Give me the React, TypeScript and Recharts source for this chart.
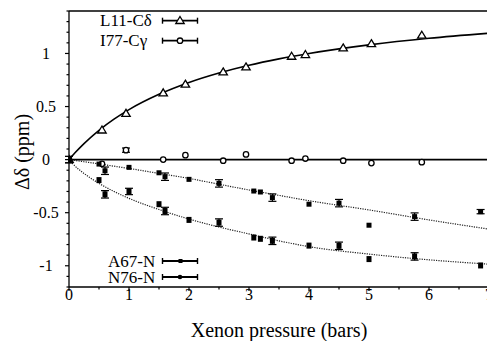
import {
  ComposedChart,
  Line,
  Scatter,
  ErrorBar,
  XAxis,
  YAxis,
  ReferenceLine,
} from "recharts";

const FONT = "Liberation Serif";

// L11-Cδ and I77-Cγ (same pressures)
const cPressure = [0, 0.55, 0.95, 1.57, 1.94, 2.57, 2.95, 3.71, 3.94, 4.57, 5.04, 5.88];
const l11Shift = [0, 0.277, 0.434, 0.627, 0.709, 0.824, 0.871, 0.972, 0.988, 1.05, 1.09, 1.17];
const i77Shift = [0, -0.04, 0.089, 0, 0.042, -0.01, 0.049, -0.01, 0.01, -0.01, -0.033, -0.024];
const i77Err = [0, 0, 0.02, 0, 0, 0, 0, 0, 0, 0, 0, 0];

// A67-N and N76-N
const nPressure = [0, 0.5, 0.6, 1.0, 1.5, 1.6, 2.0, 2.5, 3.08, 3.19, 3.39, 4.0, 4.5, 5.0, 5.76, 6.86];
const n76Shift = [0, -0.042, -0.105, -0.073, -0.124, -0.161, -0.186, -0.224, -0.296, -0.305, -0.358, -0.42, -0.41, -0.618, -0.537, -0.49];
const n76Err = [0.03, 0, 0.035, 0, 0, 0.035, 0, 0.035, 0, 0, 0.035, 0, 0.035, 0, 0.035, 0.02];
const a67Shift = [0, -0.193, -0.327, -0.3, -0.42, -0.484, -0.568, -0.593, -0.734, -0.746, -0.765, -0.81, -0.812, -0.937, -0.912, -0.997];
const a67Err = [0.03, 0, 0.035, 0.03, 0, 0.035, 0, 0.035, 0, 0, 0.035, 0, 0.035, 0, 0.035, 0];

// fitted curves
const fitX = [0, 0.05, 0.1, 0.25, 0.5, 0.75, 1, 1.5, 2, 2.5, 3, 3.5, 4, 5, 6, 7];
const l11Fit = [0, 0.033, 0.064, 0.151, 0.276, 0.381, 0.471, 0.615, 0.727, 0.816, 0.889, 0.949, 1.0, 1.081, 1.143, 1.191];
const a67Fit = [0, -0.03, -0.06, -0.13, -0.224, -0.3, -0.365, -0.47, -0.56, -0.635, -0.7, -0.765, -0.82, -0.89, -0.944, -0.985];
const n76Fit = [0, -0.004, -0.008, -0.02, -0.04, -0.062, -0.083, -0.13, -0.177, -0.232, -0.286, -0.337, -0.387, -0.474, -0.568, -0.655];
const i77FitX = [0, 7];
const i77Fit = [0, 0];

const xTicks = [0, 0.5, 1, 1.5, 2, 2.5, 3, 3.5, 4, 4.5, 5, 5.5, 6, 6.5, 7];
const xLabeled = [0, 1, 2, 3, 4, 5, 6, 7];
const yTicks = [
  -1.2, -1.1, -1, -0.9, -0.8, -0.7, -0.6, -0.5, -0.4, -0.3, -0.2, -0.1, 0,
  0.1, 0.2, 0.3, 0.4, 0.5, 0.6, 0.7, 0.8, 0.9, 1, 1.1, 1.2, 1.3, 1.4,
];
const yLabeled = [-1, -0.5, 0, 0.5, 1];

const toPoints = (xs: number[], ys: number[], errs?: number[]) =>
  xs.map((x, i) => ({ x, y: ys[i], err: errs ? errs[i] : 0 }));

const XTick = ({ x, y, payload }: any) => {
  const major = xLabeled.includes(payload.value);
  return (
    <g>
      <line x1={x} x2={x} y1={y} y2={y + (major ? 4 : 2.5)} stroke="#000" strokeWidth={1.2} />
      {major && (
        <text x={x} y={y + 12.5} textAnchor="middle" fontSize={16} fontFamily={FONT} fill="#000">
          {payload.value}
        </text>
      )}
    </g>
  );
};

const YTick = ({ x, y, payload }: any) => {
  const major = yLabeled.includes(payload.value);
  return (
    <g>
      <line x1={x} x2={x - (major ? 4 : 2.5)} y1={y} y2={y} stroke="#000" strokeWidth={1.2} />
      {major && (
        <text x={46} y={y + 5.5} textAnchor="middle" fontSize={16} fontFamily={FONT} fill="#000">
          {payload.value}
        </text>
      )}
    </g>
  );
};

const Triangle = ({ cx, cy }: any) => (
  <path
    d={`M${cx},${cy - 4.2} L${cx + 4.2},${cy + 2.8} L${cx - 4.2},${cy + 2.8} Z`}
    fill="#fff"
    stroke="#000"
    strokeWidth={1.3}
  />
);
const OpenCircle = ({ cx, cy }: any) => (
  <circle cx={cx} cy={cy} r={2.7} fill="#fff" stroke="#000" strokeWidth={1.3} />
);
const Square = ({ cx, cy }: any) => <rect x={cx - 2.5} y={cy - 3} width={5} height={6} fill="#000" />;
const SmallSquare = ({ cx, cy }: any) => <rect x={cx - 2.5} y={cy - 2.5} width={5} height={5} fill="#000" />;

function LegendRow({ x, y, label, marker }: { x: number; y: number; label: string; marker: "tri" | "circ" | "sq" | "dot" }) {
  return (
    <g>
      <text x={x} y={y + 5.5} fontSize={17} fontFamily={FONT} fill="#000">{label}</text>
      <line x1={162} x2={198} y1={y} y2={y} stroke="#000" strokeWidth={1.8} />
      <line x1={162.5} x2={162.5} y1={y - 3} y2={y + 3} stroke="#000" strokeWidth={1.4} />
      <line x1={197.5} x2={197.5} y1={y - 3} y2={y + 3} stroke="#000" strokeWidth={1.4} />
      {marker === "tri" && <Triangle cx={180} cy={y} />}
      {marker === "circ" && <OpenCircle cx={180} cy={y} />}
      {marker === "sq" && <rect x={178.5} y={y - 2} width={4} height={4} fill="#000" />}
      {marker === "dot" && <circle cx={180} cy={y} r={2.3} fill="#000" />}
    </g>
  );
}

export default function App() {
  return (
    <div style={{ position: "absolute", left: 0, top: 0, width: 487, height: 341, overflow: "hidden", background: "#fff" }}>
      <ComposedChart width={500} height={341} margin={{ top: 11, right: 11, bottom: 0, left: 0 }}>
        <XAxis
          type="number"
          dataKey="x"
          domain={[0, 7]}
          ticks={xTicks}
          interval={0}
          height={54}
          tickSize={0}
          tickMargin={0}
          tickLine={false}
          tick={<XTick />}
          axisLine={{ stroke: "#000", strokeWidth: 1.3 }}
          allowDataOverflow
          label={{
            content: ({ viewBox }: any) => (
              <text
                x={viewBox.x + viewBox.width / 2}
                y={viewBox.y + 49.5}
                textAnchor="middle"
                fontSize={20}
                fontFamily={FONT}
                fill="#000"
              >
                Xenon pressure (bars)
              </text>
            ),
          }}
        />
        <YAxis
          type="number"
          dataKey="y"
          domain={[-1.2, 1.4]}
          ticks={yTicks}
          interval={0}
          width={69}
          tickSize={0}
          tickMargin={0}
          tickLine={false}
          tick={<YTick />}
          axisLine={{ stroke: "#000", strokeWidth: 1.3 }}
          allowDataOverflow
          label={{
            content: ({ viewBox }: any) => {
              const cy = viewBox.y + viewBox.height / 2 + 3;
              return (
                <text
                  x={29}
                  y={cy}
                  transform={`rotate(-90, 29, ${cy})`}
                  textAnchor="middle"
                  fontSize={20}
                  fontFamily={FONT}
                  fill="#000"
                >
                  Δδ (ppm)
                </text>
              );
            },
          }}
        />
        <ReferenceLine y={1.4} stroke="#000" strokeWidth={1.3} />

        <Line data={toPoints(i77FitX, i77Fit)} dataKey="y" type="linear" stroke="#000" strokeWidth={1.8} dot={false} isAnimationActive={false} />
        <Line data={toPoints(fitX, l11Fit)} dataKey="y" type="monotone" stroke="#000" strokeWidth={1.6} dot={false} isAnimationActive={false} />
        <Line data={toPoints(fitX, n76Fit)} dataKey="y" type="monotone" stroke="#222" strokeWidth={1.2} strokeDasharray="1.2 1.2" dot={false} isAnimationActive={false} />
        <Line data={toPoints(fitX, a67Fit)} dataKey="y" type="monotone" stroke="#222" strokeWidth={1.2} strokeDasharray="1.2 1.2" dot={false} isAnimationActive={false} />

        <Scatter data={toPoints(cPressure, l11Shift)} dataKey="y" shape={<Triangle />} isAnimationActive={false} />
        <Scatter data={toPoints(cPressure, i77Shift, i77Err)} dataKey="y" shape={<OpenCircle />} isAnimationActive={false}>
          <ErrorBar dataKey="err" direction="y" width={4} stroke="#000" strokeWidth={1.2} />
        </Scatter>
        <Scatter data={toPoints(nPressure, n76Shift, n76Err)} dataKey="y" shape={<SmallSquare />} isAnimationActive={false}>
          <ErrorBar dataKey="err" direction="y" width={4} stroke="#000" strokeWidth={1.2} />
        </Scatter>
        <Scatter data={toPoints(nPressure, a67Shift, a67Err)} dataKey="y" shape={<Square />} isAnimationActive={false}>
          <ErrorBar dataKey="err" direction="y" width={4} stroke="#000" strokeWidth={1.2} />
        </Scatter>
      </ComposedChart>
      <svg width={487} height={341} style={{ position: "absolute", left: 0, top: 0, pointerEvents: "none" }}>
        <LegendRow x={100} y={20.7} label="L11-Cδ" marker="tri" />
        <LegendRow x={100} y={40.7} label="I77-Cγ" marker="circ" />
        <LegendRow x={108} y={261} label="A67-N" marker="sq" />
        <LegendRow x={108} y={277} label="N76-N" marker="dot" />
      </svg>
    </div>
  );
}
